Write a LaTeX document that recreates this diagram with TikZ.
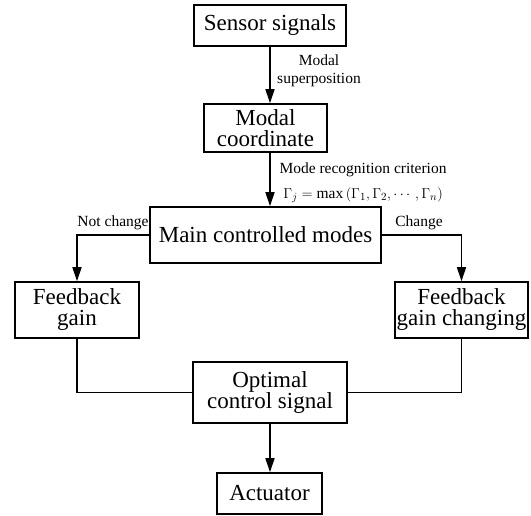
\documentclass[tikz,border=0pt]{standalone}
\usepackage{amsmath}
\usepackage{fontspec}
\setmainfont{Liberation Serif}
\usetikzlibrary{arrows.meta}
\newcommand{\bigtxt}{\fontsize{23}{25}\selectfont}
\newcommand{\smalltxt}{\fontsize{15.5}{18}\selectfont}

\begin{document}
\begin{tikzpicture}[x=1pt,y=-1pt,
	blk/.style={draw, line width=1.6pt, align=center, inner sep=0pt,
		font=\bigtxt},
	lbl/.style={align=center, inner sep=1pt, font=\smalltxt},
	flow/.style={line width=1.6pt, -{Triangle[width=9pt,length=14pt]}},
	link/.style={line width=1.6pt}]
	\useasboundingbox (0,0) rectangle (531,516);
	\node [blk, minimum width=152pt, minimum height=41pt] (sensor) at (270,25.5) {Sensor signals};
	\node [blk, minimum width=123pt, minimum height=48pt] (modal) at (265.5,128) {Modal\\[-4pt]coordinate};
	\node [blk, minimum width=231pt, minimum height=56pt] (main) at (265.5,235) {Main controlled modes};
	\node [blk, minimum width=124pt, minimum height=56pt] (fbg) at (77,310) {Feedback\\[-4pt]gain};
	\node [blk, minimum width=133pt, minimum height=56pt] (fbgc) at (461.5,310) {Feedback\\[-4pt]gain changing};
	\node [blk, minimum width=154pt, minimum height=61pt] (ocs) at (270,392.5) {Optimal\\[-4pt]control signal};
	\node [blk, minimum width=105pt, minimum height=41pt] (act) at (269.5,493.5) {Actuator};
	% labels
	\node [lbl] (superpos) at (319,71) {Modal\\superposition};
	\node [lbl] (criterion) at (363,170) {Mode recognition criterion};
	\node [lbl] (formula) at (363,195) {$\Gamma_j=\max\left(\Gamma_1,\Gamma_2,\cdots,\Gamma_n\right)$};
	\node [lbl] (notchg) at (113,223) {Not change};
	\node [lbl] (chg) at (419,223) {Change};
	% connectors
	\draw [flow] (sensor.south) -- (sensor.south |- modal.north);
	\draw [flow] (sensor.south |- modal.south) -- (sensor.south |- main.north);
	\draw [flow] (ocs.south) -- (ocs.south |- act.north);
	\draw [flow] (main.west) -| (fbg.north);
	\draw [flow] (main.east) -| (fbgc.north);
	\draw [link] (fbg.south) |- (ocs.west);
	\draw [link] (fbgc.south) |- (ocs.east);
\end{tikzpicture}
\end{document}
